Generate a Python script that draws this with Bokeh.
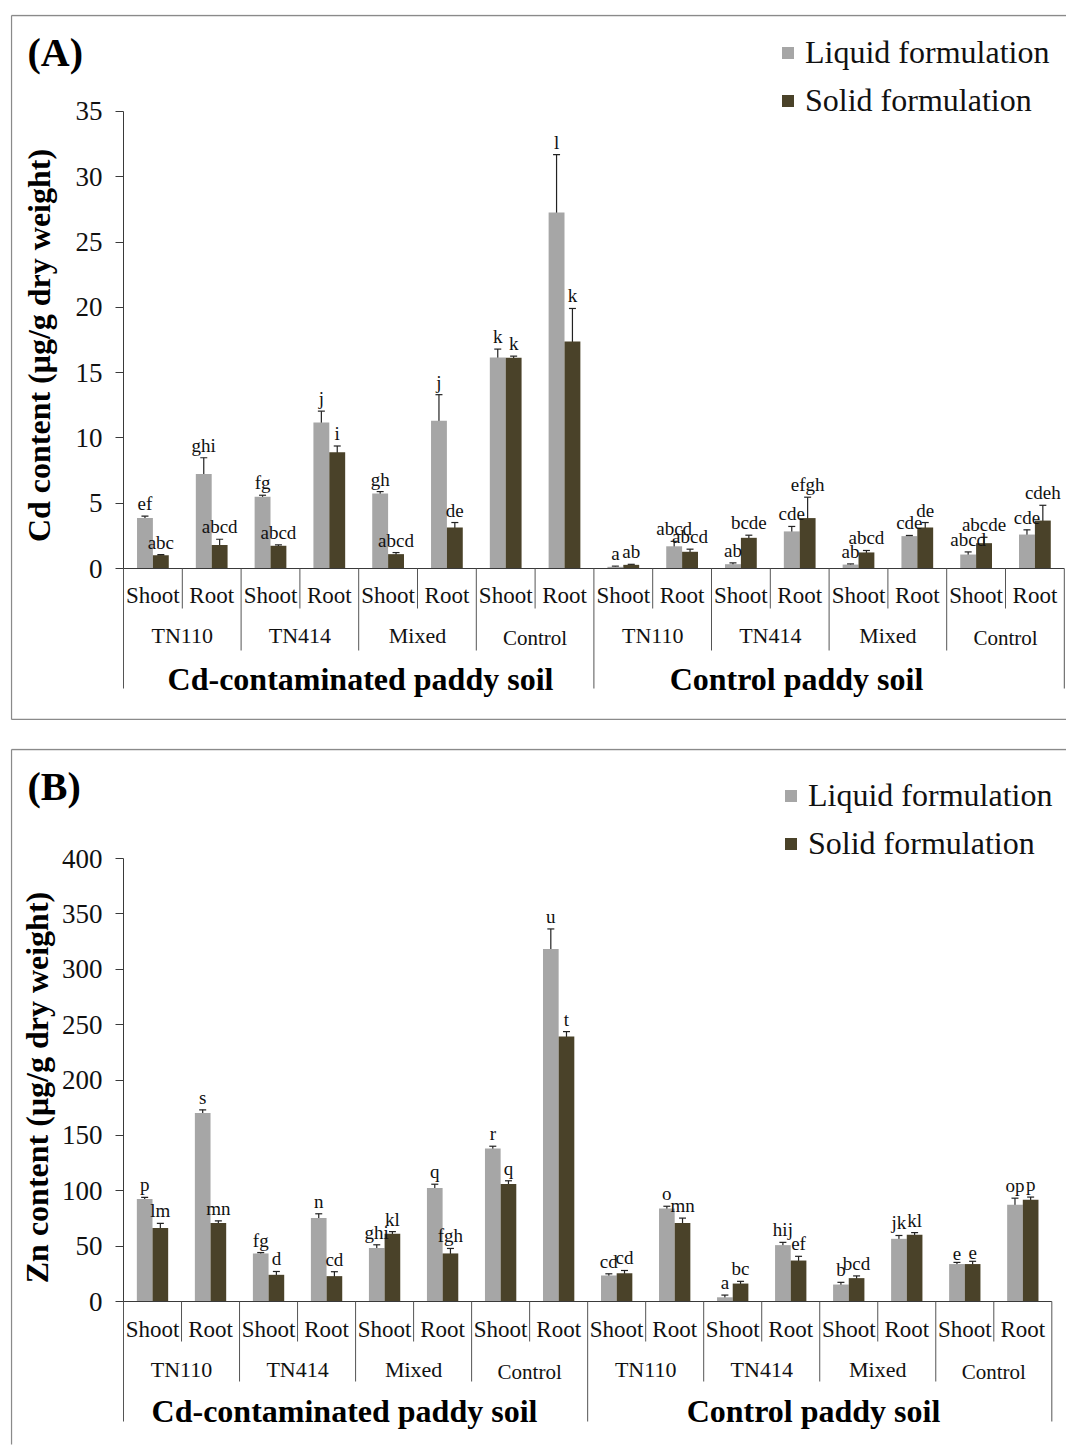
import math
from bokeh.plotting import figure
from bokeh.models import (Range1d, FixedTicker, LinearAxis, Whisker, ColumnDataSource,
                          Legend, LegendItem, Label, TeeHead)
from bokeh.layouts import column
from bokeh.core.properties import value
from bokeh.embed import file_html
from bokeh.resources import INLINE

# ---------------- data ----------------
soils = ["Cd-contaminated paddy soil", "Control paddy soil"]
groups = ["TN110", "TN414", "Mixed", "Control"]
parts = ["Shoot", "Root"]

cd_liquid = [3.86, 7.23, 5.49, 11.18, 5.74, 11.31, 16.16, 27.26, 0.13, 1.70, 0.33, 2.84, 0.30, 2.48, 1.07, 2.60]
cd_liquid_err = [0.15, 1.25, 0.12, 0.87, 0.15, 2.0, 0.64, 4.43, 0.05, 0.38, 0.10, 0.38, 0.05, 0.05, 0.20, 0.36]
cd_solid = [1.02, 1.79, 1.74, 8.91, 1.10, 3.14, 16.13, 17.38, 0.28, 1.28, 2.35, 3.86, 1.23, 3.14, 1.94, 3.67]
cd_solid_err = [0.05, 0.45, 0.07, 0.47, 0.12, 0.38, 0.13, 2.53, 0.04, 0.20, 0.20, 1.60, 0.15, 0.38, 0.45, 1.17]
cd_liquid_letters = ["ef", "ghi", "fg", "j", "gh", "j", "k", "l", "a", "abcd", "ab", "cde", "ab", "cde", "abcd", "cde"]
cd_solid_letters = ["abc", "abcd", "abcd", "i", "abcd", "de", "k", "k", "ab", "abcd", "bcde", "efgh", "abcd", "de", "abcde", "cdeh"]

zn_liquid = [92.5, 170.1, 43.4, 75.3, 48.2, 102.4, 138.2, 318.2, 23.5, 84.0, 3.8, 50.9, 15.3, 56.6, 33.8, 87.3]
zn_liquid_err = [1.5, 3.0, 0.8, 3.9, 3.0, 3.5, 2.0, 18.2, 1.5, 2.0, 2.0, 2.5, 2.0, 3.0, 1.5, 6.0]
zn_solid = [66.3, 70.8, 24.1, 22.9, 61.1, 43.4, 106.0, 239.3, 25.5, 70.8, 16.2, 37.0, 21.1, 60.2, 33.8, 91.8]
zn_solid_err = [4.2, 2.0, 3.0, 4.0, 2.0, 4.5, 3.0, 4.4, 2.5, 4.5, 2.0, 3.8, 2.0, 2.0, 2.5, 2.5]
zn_liquid_letters = ["p", "s", "fg", "n", "ghi", "q", "r", "u", "cd", "o", "a", "hij", "b", "jk", "e", "op"]
zn_solid_letters = ["lm", "mn", "d", "cd", "kl", "fgh", "q", "t", "cd", "mn", "bc", "ef", "bcd", "kl", "e", "p"]

series_names = ["Liquid formulation", "Solid formulation"]

cd_ticks = [0, 5, 10, 15, 20, 25, 30, 35]
zn_ticks = [0, 50, 100, 150, 200, 250, 300, 350, 400]

# ---------------- style ----------------
SERIF = value("Liberation Serif")
C_LIQ = "#a6a6a6"
C_SOL = "#4a4229"
AX = "#3a3a3a"
W = 1056          # figure spans page x 10 .. 1066
FIG_LEFT = 10
CAT0 = 123        # page x of first category boundary


def make_panel(tag, ylabel, liq, liq_e, sol, sol_e, liq_l, sol_l, ticks,
               top_page, height, zero_page, ppu, xppc, rows_page, seps_page,
               soil_page_x, ylabel_page, legend_xy, bottom_border):
    n = len(parts) * len(groups) * len(soils)
    dx = lambda px: (px - CAT0) / xppc
    dy = lambda py: (zero_page - py) / ppu

    p = figure(width=W, height=height, output_backend="svg", toolbar_location=None,
               x_range=Range1d(dx(FIG_LEFT), dx(FIG_LEFT + W)),
               y_range=Range1d(dy(top_page + height), dy(top_page)),
               x_axis_location=None, y_axis_location=None,
               min_border_left=0, min_border_right=0,
               min_border_top=0, min_border_bottom=0)
    p.outline_line_color = None
    p.xgrid.visible = False
    p.ygrid.visible = False
    p.background_fill_color = "white"
    p.border_fill_color = "white"

    # panel frame (left, top and, for panel A, bottom edge; right edge is cut off)
    bx0, bx1 = dx(FIG_LEFT + 1), dx(FIG_LEFT + W + 5)
    by0, by1 = dy(top_page + 1), dy(top_page + height - 1)
    xs0 = [bx0, bx0]
    ys0 = [by0, by0]
    xs1 = [bx0, bx1]
    ys1 = [by1, by0]
    if bottom_border:
        xs0.append(bx0); ys0.append(by1); xs1.append(bx1); ys1.append(by1)
    p.segment(x0=xs0, y0=ys0, x1=xs1, y1=ys1, line_color="#8a8a8a", line_width=1.3)

    yaxis = LinearAxis(bounds=(ticks[0], ticks[-1]), ticker=FixedTicker(ticks=ticks),
                       fixed_location=0)
    yaxis.axis_line_color = AX
    yaxis.major_tick_line_color = AX
    yaxis.major_tick_out = 8
    yaxis.major_tick_in = 0
    yaxis.minor_tick_line_color = None
    yaxis.major_label_text_font = "Liberation Serif"
    yaxis.major_label_text_font_size = "27px"
    yaxis.major_label_text_color = "#111111"
    yaxis.major_label_standoff = 13
    p.add_layout(yaxis, "left")

    # y-axis title (placed as in the reference, centred on the tick span)
    p.text(x=[dx(ylabel_page[0])], y=[dy(ylabel_page[1])], text=[ylabel], angle=math.pi / 2,
           text_font=SERIF, text_font_size="32px", text_font_style="bold",
           text_align="center", text_baseline="middle", text_color="#000000")

    bw = 0.27
    cx = [i + 0.5 for i in range(n)]
    xl = [c - bw / 2 for c in cx]
    xs = [c + bw / 2 for c in cx]

    r_liq = p.vbar(x=xl, top=liq, width=bw, fill_color=C_LIQ, line_color=None)
    r_sol = p.vbar(x=xs, top=sol, width=bw, fill_color=C_SOL, line_color=None)

    for xx, v, e in ((xl, liq, liq_e), (xs, sol, sol_e)):
        src = ColumnDataSource(dict(x=xx, lo=[a - b for a, b in zip(v, e)],
                                    hi=[a + b for a, b in zip(v, e)]))
        wk = Whisker(source=src, base="x", lower="lo", upper="hi", dimension="height",
                     line_color="#222222", line_width=1.2,
                     upper_head=TeeHead(size=7, line_color="#222222", line_width=1.2),
                     lower_head=TeeHead(size=7, line_color="#222222", line_width=1.2))
        p.add_layout(wk)

    for xx, v, e, lab in ((xl, liq, liq_e, liq_l), (xs, sol, sol_e, sol_l)):
        p.text(x=xx, y=[a + b for a, b in zip(v, e)], text=lab, text_font=SERIF,
               text_font_size="19px", text_align="center", text_baseline="bottom",
               y_offset=-2, text_color="#111111")

    # category axis (baseline + separators)
    p.segment(x0=[0], y0=[0], x1=[n], y1=[0], line_color=AX, line_width=1.2)
    sx = list(range(n + 1))
    depth = []
    for i in sx:
        if i % 8 == 0:
            depth.append(dy(seps_page[2]))
        elif i % 2 == 0:
            depth.append(dy(seps_page[1]))
        else:
            depth.append(dy(seps_page[0]))
    p.segment(x0=sx, y0=[0] * len(sx), x1=sx, y1=depth, line_color="#555555", line_width=1)

    part_lab = [parts[i % 2] for i in range(n)]
    p.text(x=cx, y=[dy(rows_page[0])] * n, text=part_lab, text_font=SERIF,
           text_font_size="23px", text_align="center", text_baseline="middle",
           text_color="#111111")
    ng = len(groups) * len(soils)
    g_lab = [groups[j % len(groups)] for j in range(ng)]
    g_x = [2 * j + 1 for j in range(ng)]
    g_size = ["21px" if g == "Control" else "22px" for g in g_lab]
    g_dy = [2 if g == "Control" else 0 for g in g_lab]
    p.text(x=g_x, y=[dy(rows_page[1])] * ng, text=g_lab, text_font=SERIF,
           text_font_size=g_size, y_offset=g_dy, text_align="center", text_baseline="middle",
           text_color="#111111")
    p.text(x=[dx(v) for v in soil_page_x], y=[dy(rows_page[2])] * 2, text=soils, text_font=SERIF,
           text_font_size="32px", text_font_style="bold", text_align="center",
           text_baseline="middle", text_color="#000000")

    legend = Legend(items=[LegendItem(label=series_names[0], renderers=[r_liq]),
                           LegendItem(label=series_names[1], renderers=[r_sol])],
                    location=legend_xy, orientation="vertical")
    legend.label_text_font = "Liberation Serif"
    legend.label_text_font_size = "32px"
    legend.label_text_color = "#111111"
    legend.glyph_width = 15
    legend.glyph_height = 15
    legend.label_standoff = 10
    legend.label_height = 40
    legend.spacing = 8
    legend.padding = 0
    legend.margin = 0
    legend.border_line_color = None
    legend.background_fill_alpha = 0
    p.add_layout(legend)

    p.add_layout(Label(x=dx(27), y=dy(top_page + 38), text=tag,
                       text_font="Liberation Serif", text_font_style="bold",
                       text_font_size="40px", text_baseline="middle", text_color="#000000"))
    return p


pA = make_panel("(A)", "Cd content (μg/g dry weight)", cd_liquid, cd_liquid_err, cd_solid,
                cd_solid_err, cd_liquid_letters, cd_solid_letters, cd_ticks,
                top_page=14, height=706, zero_page=568, ppu=13.06, xppc=58.8,
                rows_page=(595, 635, 678), seps_page=(608, 650, 688),
                soil_page_x=(360, 796), ylabel_page=(38, 345), legend_xy=(770, 600),
                bottom_border=True)
pB = make_panel("(B)", "Zn content (μg/g dry weight)", zn_liquid, zn_liquid_err, zn_solid,
                zn_solid_err, zn_liquid_letters, zn_solid_letters, zn_ticks,
                top_page=748, height=697, zero_page=1301, ppu=1.1075, xppc=58.02,
                rows_page=(1329, 1369, 1410), seps_page=(1341, 1381, 1421),
                soil_page_x=(344, 813), ylabel_page=(36, 1087), legend_xy=(773, 582),
                bottom_border=False)
pA.margin = (14, 0, 0, 10)
pB.margin = (0, 0, 0, 10)

layout = column(pA, pB, spacing=28)
open("out.html", "w").write(file_html(layout, INLINE))
